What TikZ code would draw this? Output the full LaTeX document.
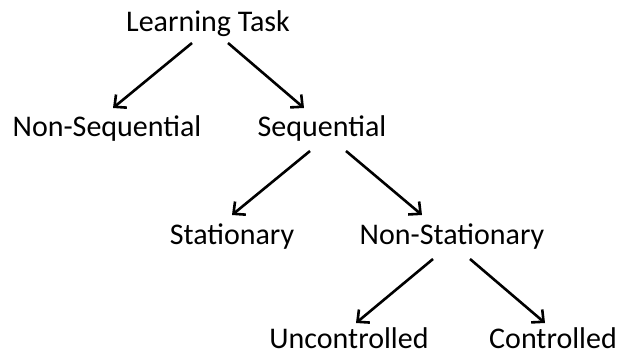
\documentclass[tikz,border=0pt]{standalone}
\usepackage{fontspec}
\setmainfont{Carlito}
\usetikzlibrary{arrows.meta}
\begin{document}
\begin{tikzpicture}[x=1pt,y=-1pt,
  lbl/.style={anchor=base,inner sep=0pt,font=\fontsize{30}{36}\selectfont},
  arr/.style={-{Straight Barb[length=9pt,width=17pt]},line width=2.6pt}]
\useasboundingbox (0,0) rectangle (618,355);
\node[lbl] (lt)  at (208,32)  {Learning Task};
\node[lbl] (ns)  at (107,137) {Non-Sequential};
\node[lbl] (seq) at (322,137) {Sequential};
\node[lbl] (st)  at (232,245) {Stationary};
\node[lbl] (nst) at (452,245) {Non-Stationary};
\node[lbl] (unc) at (349,348) {Uncontrolled};
\node[lbl] (ctl) at (553,348) {Controlled};
\draw[arr] ([shift={(-16,11)}]lt.base) -- ([shift={(6,-29)}]ns.base);
\draw[arr] ([shift={(20,11)}]lt.base) -- ([shift={(-18,-29)}]seq.base);
\draw[arr] ([shift={(-12,14)}]seq.base) -- ([shift={(0,-30)}]st.base);
\draw[arr] ([shift={(24,14)}]seq.base) -- ([shift={(-30,-30)}]nst.base);
\draw[arr] ([shift={(-19,14)}]nst.base) -- ([shift={(7,-25)}]unc.base);
\draw[arr] ([shift={(18,14)}]nst.base) -- ([shift={(-8,-25)}]ctl.base);
\end{tikzpicture}
\end{document}
